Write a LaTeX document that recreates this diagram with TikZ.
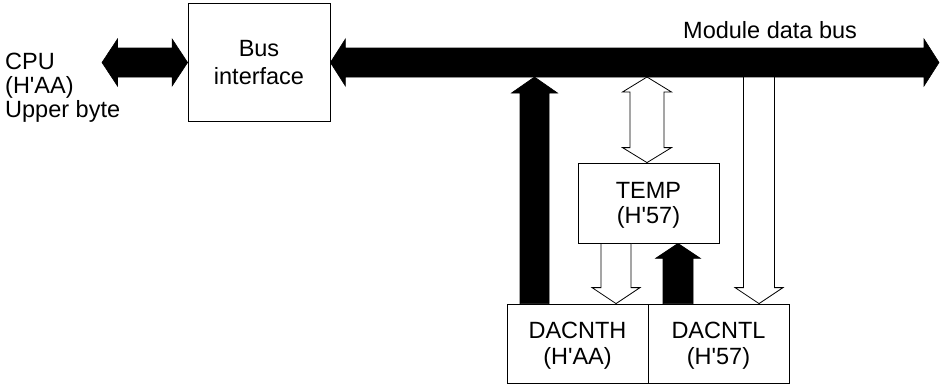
\documentclass[tikz,border=0pt]{standalone}
\usepackage{fontspec}
\setmainfont{Liberation Sans}[Ligatures=TeXOff]
\usetikzlibrary{calc}
% single fat arrow: #1 start, #2 tip, #3 shaft half width, #4 head half width, #5 head length, #6 style
\newcommand\fatsingle[6]{%
  \coordinate (fS) at (#1); \coordinate (fT) at (#2);
  \coordinate (fB) at ($(fT)!#5!(fS)$);
  \path[#6] ($(fS)!#3!90:(fT)$) -- ($(fB)!#3!90:(fT)$) -- ($(fB)!#4!90:(fT)$) -- (fT)
    -- ($(fB)!#4!-90:(fT)$) -- ($(fB)!#3!-90:(fT)$) -- ($(fS)!#3!-90:(fT)$) -- cycle;}
% double fat arrow: #1 tip A, #2 tip Z, #3 shaft half width, #4 head half width, #5 head length, #6 style
\newcommand\fatdouble[6]{%
  \coordinate (dA) at (#1); \coordinate (dZ) at (#2);
  \coordinate (dBa) at ($(dA)!#5!(dZ)$); \coordinate (dBz) at ($(dZ)!#5!(dA)$);
  \path[#6] ($(dBa)!#3!90:(dZ)$) -- ($(dBa)!#4!90:(dZ)$) -- (dA) -- ($(dBa)!#4!-90:(dZ)$)
    -- ($(dBa)!#3!-90:(dZ)$) -- ($(dBz)!#3!-90:(dZ)$) -- ($(dBz)!#4!-90:(dZ)$) -- (dZ)
    -- ($(dBz)!#4!90:(dZ)$) -- ($(dBz)!#3!90:(dZ)$) -- cycle;}
\begin{document}
\begin{tikzpicture}[x=1pt,y=-1pt,
  box/.style={draw=black, line width=0.8pt, inner sep=0pt, align=center, text depth=0pt},
  blackarrow/.style={fill=black, draw=black, line width=0.6pt},
  whitearrow/.style={fill=white, draw=black, line width=0.8pt}]
\useasboundingbox (0,0) rectangle (942,388);

% boxes
\node[box, minimum width=142pt, minimum height=118pt,
      font=\fontsize{23.5}{28}\selectfont] (busif) at (259,62.5) {Bus\\interface};
\node[box, minimum width=141pt, minimum height=80pt,
      font=\fontsize{23.5}{25}\selectfont] (temp) at (648.5,203) {TEMP\\(H'57)};
\node[box, minimum width=141pt, minimum height=79pt,
      font=\fontsize{23.5}{26}\selectfont] (dacnth) at (577.5,343.5) {DACNTH\\(H'AA)};
\node[box, minimum width=141pt, minimum height=79pt,
      font=\fontsize{23.5}{26}\selectfont] (dacntl) at (718.5,343.5) {DACNTL\\(H'57)};

% labels
\node[anchor=north west, inner sep=0pt, align=left,
      font=\fontsize{23.5}{24}\selectfont] (cpu) at (5,52.5) {CPU\\(H'AA)\\Upper byte};
\node[anchor=base west, inner sep=0pt,
      font=\fontsize{23.5}{23.5}\selectfont] (mdb) at (683,38) {Module data bus};

% helper coordinates
\coordinate (cpuTip) at (102,62.5);
\coordinate (busEnd) at (939,62.5);
\coordinate (busBot) at (0,77);
\coordinate (xa) at (534.5,0);
\coordinate (xb) at (647,0);
\coordinate (xc) at (616,0);
\coordinate (xd) at (678,0);
\coordinate (xe) at (759,0);

% horizontal buses
\fatdouble{cpuTip}{busif.west}{14.5pt}{23.5pt}{15.5pt}{blackarrow}
\fatdouble{busif.east}{busEnd}{14.5pt}{23.5pt}{15pt}{blackarrow}

% vertical arrows
\fatsingle{xa |- dacnth.north}{xa |- busBot}{14.5pt}{23pt}{16pt}{blackarrow}
\fatdouble{xb |- busBot}{xb |- temp.north}{17pt}{24.5pt}{15pt}{whitearrow}
\fatsingle{xc |- temp.south}{xc |- dacnth.north}{15pt}{24pt}{16pt}{whitearrow}
\fatsingle{xd |- dacntl.north}{xd |- temp.south}{15pt}{22.5pt}{15pt}{blackarrow}
\fatsingle{xe |- busBot}{xe |- dacntl.north}{15.5pt}{24pt}{16pt}{whitearrow}
\end{tikzpicture}
\end{document}
